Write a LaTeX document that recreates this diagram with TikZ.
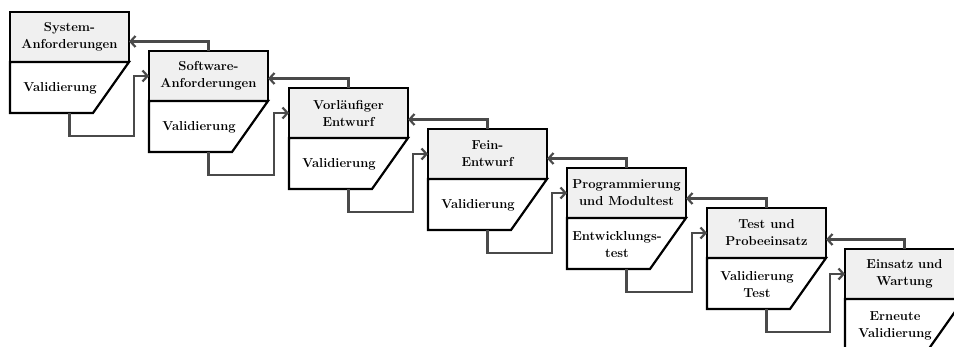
\documentclass[tikz,border=0pt]{standalone}
\usetikzlibrary{arrows.meta,calc}
\definecolor{upfill}{HTML}{F0F0F0}
\definecolor{arrcol}{HTML}{4A4A4A}
\newcommand{\mkphase}[5]{%
  \node[upper] (u#1) at (#2+59.5, #3+25) {#4};
  \draw[boxline] (u#1.south west) -- (u#1.south east) -- ++(-36,51) -- ($(u#1.south west)+(0,51)$) -- cycle;
  \node[lower] (l#1) at (#2+50, #3+76.5) {#5};
  \coordinate (b#1) at ($(u#1.south)+(0,51)$);
}
\newcommand{\mklinks}[2]{%
  \coordinate (f#1) at ($(u#2.north)+(0,-9.5)$);
  \draw[arr] (u#2.north) -- (f#1) -- (f#1 -| u#1.east);
  \draw[arr] (b#1) -- ++(0,22.7) -| ($(u#2.west)+(-15,0)$) -- (u#2.west);
}
\begin{document}
\begin{tikzpicture}[x=1pt,y=-1pt,
  txt/.style={font=\bfseries\fontsize{13}{17}\selectfont, align=center, inner sep=0pt},
  upper/.style={txt, draw=black, line width=2.2pt, fill=upfill, minimum width=119pt, minimum height=50pt, outer sep=0pt},
  lower/.style={txt},
  boxline/.style={draw=black, line width=2.2pt, line join=miter},
  arr/.style={draw=arrcol, line width=2.2pt, -{Straight Barb[length=5pt,width=11pt]}}]
\useasboundingbox (0,0) rectangle (954,347);
\clip (0,0) rectangle (954,347);
\mkphase{1}{10}{12}{System-\\Anforderungen}{Validierung}
\mkphase{2}{149}{51}{Software-\\Anforderungen}{Validierung}
\mkphase{3}{289}{88}{Vorläufiger\\Entwurf}{Validierung}
\mkphase{4}{428}{129}{Fein-\\Entwurf}{Validierung}
\mkphase{5}{567}{168}{Programmierung\\und Modultest}{Entwicklungs-\\test}
\mkphase{6}{707}{208}{Test und\\Probeeinsatz}{Validierung\\Test}
\mkphase{7}{845}{249}{Einsatz und\\Wartung}{Erneute\\Validierung}
\mklinks{1}{2}
\mklinks{2}{3}
\mklinks{3}{4}
\mklinks{4}{5}
\mklinks{5}{6}
\mklinks{6}{7}
\end{tikzpicture}
\end{document}
